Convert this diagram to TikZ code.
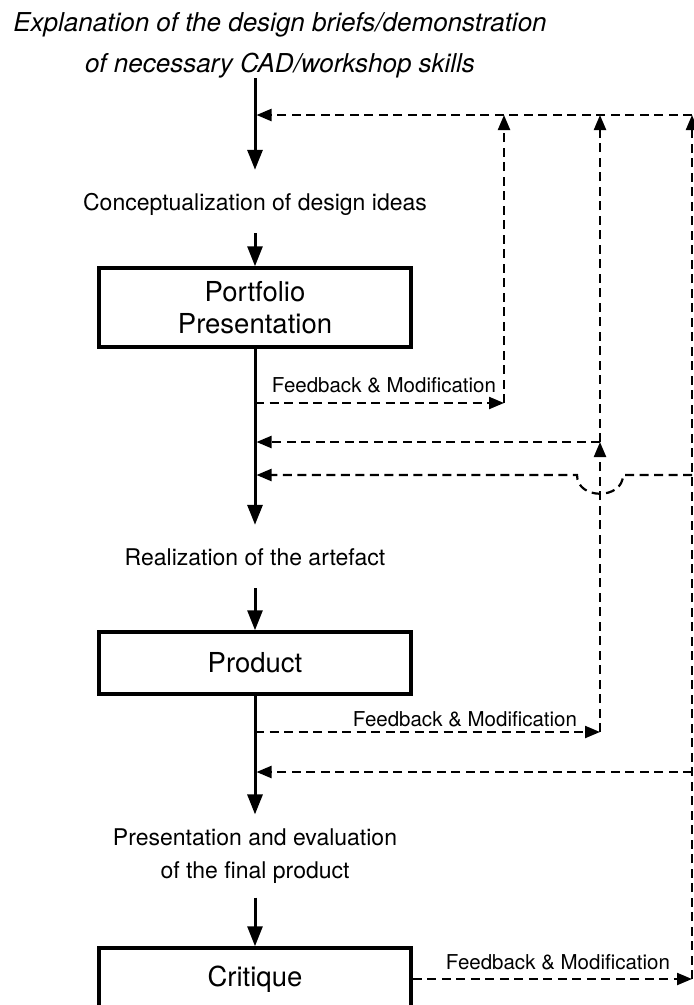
\documentclass[tikz,border=0pt]{standalone}
\usepackage{fontspec}
\setmainfont{TeX Gyre Heros}
\usetikzlibrary{arrows.meta,calc}
\tikzset{
  flow/.style={line width=3pt,-{Triangle[length=20pt,width=15pt]}},
  fb/.style={line width=2.2pt,dash pattern=on 9pt off 5.5pt,-{Triangle[length=15pt,width=12pt]}},
  stagebox/.style={draw,line width=3.5pt,minimum width=312pt,align=center,font=\fontsize{27.5}{32}\selectfont},
  steptext/.style={align=center,inner ysep=18pt,font=\fontsize{23}{33}\selectfont},
  fblabel/.style={inner sep=0pt,font=\fontsize{20.5}{22}\selectfont},
}
\begin{document}
\begin{tikzpicture}[x=1pt,y=-1pt]
                \useasboundingbox(0,0)rectangle(694,1005);
                \clip(0,0)rectangle(694,1005);
                \node[align=center,inner ysep=0pt,font=\itshape\fontsize{26}{41}\selectfont](brief)at(280,45){Explanation of the design briefs/demonstration\\of necessary CAD/workshop skills};
                \node[steptext,text height=22pt,text depth=5pt](concept)at(255,201.5){Conceptualization of design ideas};
                \node[stagebox,minimum height=79pt](portfolio)at(255,307.5){Portfolio\\Presentation};
                \node[steptext,text height=22pt,text depth=5pt](realize)at(255,556.5){Realization of the artefact};
                \node[stagebox,minimum height=62pt](product)at(255,663){Product};
                \node[steptext,inner ysep=14pt](present)at(255,856){Presentation and evaluation\\of the final product};
                \node[stagebox,minimum height=62pt](critique)at(255,979){Critique};
                \coordinate(top)at(255,115);
                \coordinate(c1)at(504,403);
                \coordinate(c2)at(600,732);
                \coordinate(j2)at(600,442);
                \coordinate(j3)at(692,475);
                \coordinate(j4)at(692,772);
                \coordinate(c3)at(692,979);
                \draw[flow](concept.north|-brief.south)--(concept);
                \draw[flow](concept)--(portfolio);
                \draw[flow](portfolio)--(realize);
                \draw[flow](realize)--(product);
                \draw[flow](product)--(present);
                \draw[flow](present)--(critique);
                \draw[fb](c1-|portfolio)--(c1);
                \draw[fb](c1)--(c1|-top);
                \node[fblabel](fblab1)at(384,385){Feedback \& Modification};
                \draw[fb](c2-|product)--(c2);
                \draw[fb](c2)--(j2);
                \draw[fb](j2)--(j2|-top);
                \draw[fb,shorten >=1.5pt](j2)--(j2-|portfolio);
                \node[fblabel](fblab2)at(465,719){Feedback \& Modification};
                \draw[fb,shorten >=1.5pt](j3)--($(j2|-j3)+(23,0)$)..controls($(j2|-j3)+(23,25)$)and($(j2|-j3)+(-23,25)$)..($(j2|-j3)+(-23,0)$)--(j3-|portfolio);
                \draw[fb,shorten >=1.5pt](j4)--(j4-|product);
                \draw[fb](critique)--(c3);
                \draw[fb](c3)--(c3|-top);
                \draw[fb,shorten >=1.5pt](c3|-top)--(top);
                \node[fblabel](fblab3)at(558,962){Feedback \& Modification};
            \end{tikzpicture}
\end{document}
